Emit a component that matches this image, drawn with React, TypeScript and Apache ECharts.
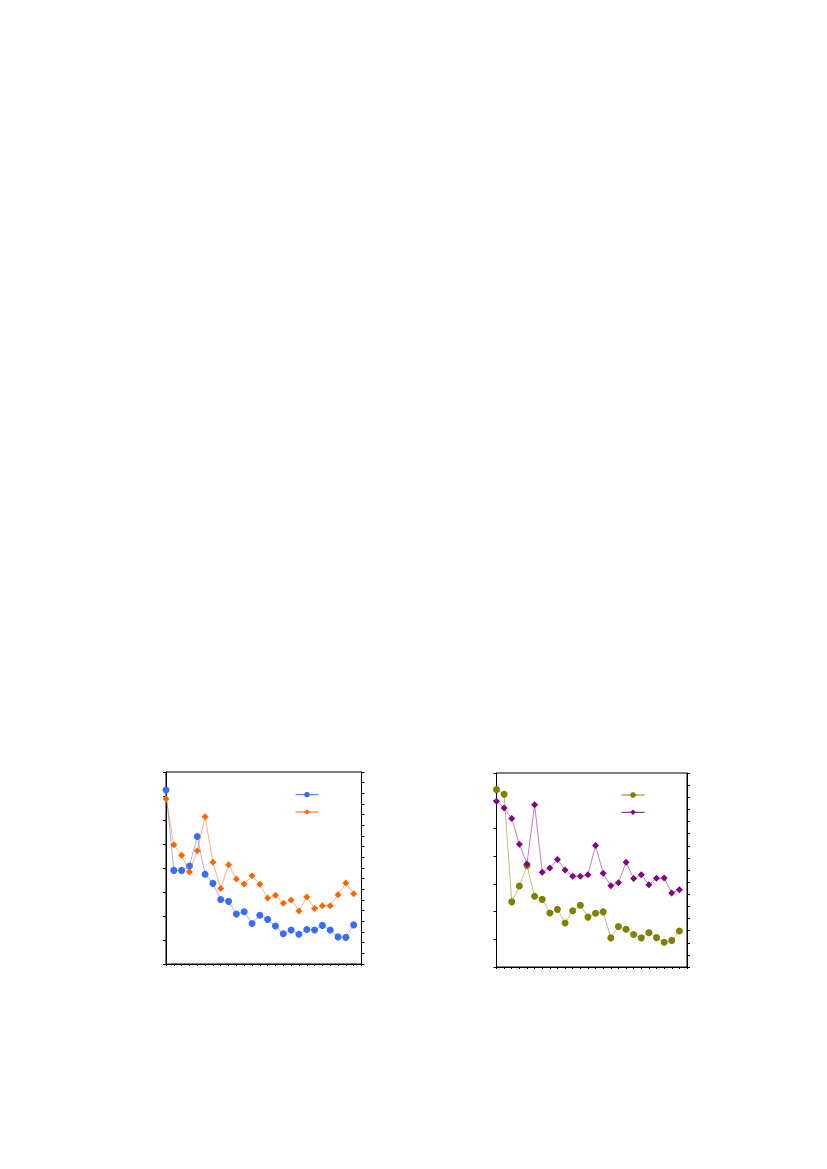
import React, { useEffect, useRef } from "react";
import * as echarts from "echarts";

// x positions (index) 0..24
const blueValues = [7.25, 3.9, 3.9, 4.08, 5.31, 3.74, 3.36, 2.69, 2.61, 2.08, 2.18, 1.69, 2.03, 1.86, 1.58, 1.26, 1.42, 1.24, 1.44, 1.42, 1.61, 1.42, 1.13, 1.11, 1.63];
const orangeValues = [6.89, 4.97, 4.53, 3.83, 4.72, 6.14, 4.24, 3.15, 4.14, 3.54, 3.33, 3.68, 3.32, 2.75, 2.86, 2.53, 2.67, 2.21, 2.79, 2.31, 2.43, 2.43, 2.89, 3.38, 2.93];
const oliveValues = [6.4, 6.23, 2.35, 2.92, 3.66, 2.55, 2.44, 1.95, 2.08, 1.59, 2.03, 2.23, 1.8, 1.94, 1.99, 1.05, 1.46, 1.36, 1.17, 1.05, 1.24, 1.06, 0.89, 0.96, 1.3];
const purpleValues = [5.98, 5.74, 5.36, 4.43, 3.72, 5.85, 3.42, 3.57, 3.88, 3.5, 3.27, 3.27, 3.33, 4.38, 3.38, 2.93, 3.04, 3.78, 3.19, 3.33, 2.97, 3.2, 3.21, 2.67, 2.79];

const seriesNames = ["Series A", "Series B", "Series C", "Series D"];
const colors = ["#3b6cf6", "#ff6600", "#808000", "#800080"];

const toPoints = (vals: number[]) => vals.map((v, i) => [i, v]);

export default function App() {
  const ref = useRef<HTMLDivElement>(null);
  useEffect(() => {
    if (!ref.current) return;
    const chart = echarts.init(ref.current, undefined, { renderer: "svg" });
    const axisLine = { show: true, lineStyle: { color: "#000", width: 1 } };
    const mkX = (gridIndex: number) => ({
      type: "value" as const,
      gridIndex,
      min: 0,
      max: 25,
      interval: 1,
      axisLine,
      axisTick: { show: true, inside: false, length: 2, lineStyle: { color: "#000" } },
      axisLabel: { show: false },
      splitLine: { show: false },
    });
    const mkY = (gridIndex: number, position: "left" | "right", max: number, len: number) => ({
      type: "value" as const,
      gridIndex,
      position,
      min: 0,
      max,
      interval: 1,
      axisLine,
      axisTick: { show: true, inside: false, length: len, lineStyle: { color: "#000" } },
      axisLabel: { show: false },
      splitLine: { show: false },
    });
    const mkSeries = (i: number, vals: number[], xi: number, yi: number, symbol: string, size: number) => ({
      name: seriesNames[i],
      type: "line" as const,
      xAxisIndex: xi,
      yAxisIndex: yi,
      data: toPoints(vals),
      symbol,
      symbolSize: size,
      showSymbol: true,
      color: colors[i],
      lineStyle: { width: 1, color: colors[i], opacity: 0.5 },
      itemStyle: { color: colors[i] },
      z: 2 + i,
    });
    const legendCommon = {
      orient: "vertical" as const,
      itemWidth: 23,
      itemHeight: 7,
      itemGap: 11,
      formatter: () => "",
      textStyle: { fontSize: 7, padding: 0 },
      padding: 0,
      lineStyle: { opacity: 1, width: 1 },
      selectedMode: false as const,
    };
    chart.setOption({
      animation: false,
      grid: [
        { left: 166, top: 772, width: 195.5, height: 192, show: true, borderColor: "#000", borderWidth: 1 },
        { left: 496.5, top: 773, width: 190.5, height: 194, show: true, borderColor: "#000", borderWidth: 1 },
      ],
      xAxis: [mkX(0), mkX(1)],
      yAxis: [mkY(0, "left", 8, 3), mkY(0, "right", 18, 3), mkY(1, "left", 7, 3), mkY(1, "right", 16, 3)],
      legend: [
        { ...legendCommon, data: [seriesNames[0], seriesNames[1]], left: 295, top: 791.2 },
        { ...legendCommon, data: [seriesNames[2], seriesNames[3]], left: 621, top: 791.5 },
      ],
      series: [
        mkSeries(0, blueValues, 0, 0, "circle", 7),
        mkSeries(1, orangeValues, 0, 0, "diamond", 7),
        mkSeries(2, oliveValues, 1, 2, "circle", 7),
        mkSeries(3, purpleValues, 1, 2, "diamond", 7),
      ],
    });
    return () => chart.dispose();
  }, []);
  return (
    <div
      ref={ref}
      style={{ position: "absolute", left: 0, top: 0, width: 827, height: 1169, background: "#fff" }}
    />
  );
}
